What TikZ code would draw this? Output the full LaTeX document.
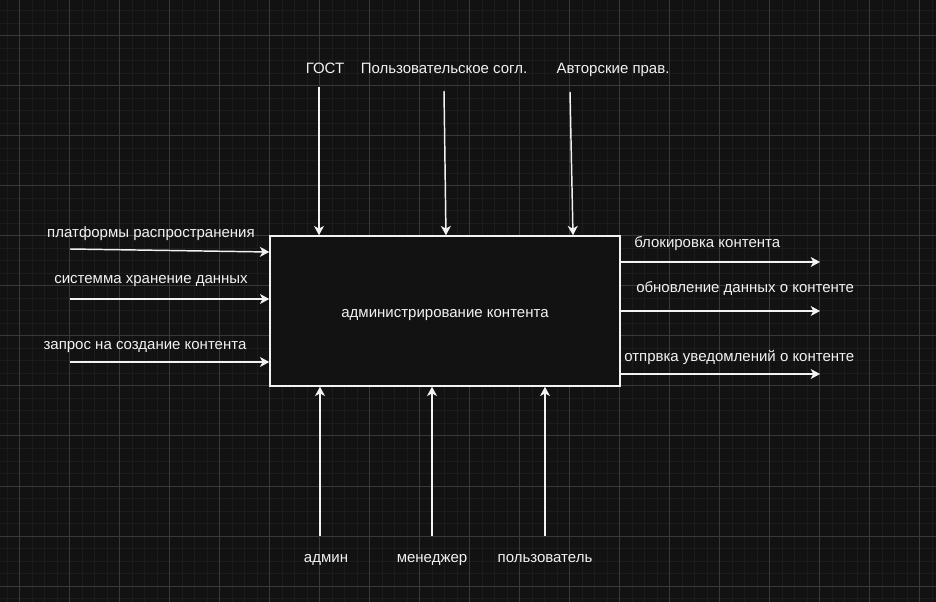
\documentclass[tikz,border=0pt]{standalone}
\usepackage{fontspec}
\setmainfont{Liberation Sans}
\usetikzlibrary{arrows.meta}
\definecolor{bg}{HTML}{121212}
\definecolor{gmin}{HTML}{1C1C1C}
\definecolor{gmaj}{HTML}{383838}
\definecolor{fg}{HTML}{F2F2F2}
\begin{document}
\begin{tikzpicture}[x=0.75pt,y=-0.75pt,
  lbl/.style={text=fg,font=\fontsize{11.25pt}{13pt}\selectfont,inner sep=0pt,anchor=base},
  arr/.style={draw=fg,line width=1.1pt,-{Stealth[length=7pt,width=7.5pt,inset=2pt]}},
  mainbox/.style={draw=fg,fill=bg,line width=1.1pt,minimum width=262.5pt,minimum height=112.5pt,inner sep=0pt}]
\useasboundingbox (0,0) rectangle (936,602);
\begin{scope}
\clip (0,0) rectangle (936,602);
\fill[bg] (0,0) rectangle (936,602);
\foreach \i in {0,...,75} \draw[gmin,line width=0.75pt] ({7+12.5*\i},0) -- ({7+12.5*\i},602);
\foreach \i in {0,...,49} \draw[gmin,line width=0.75pt] (0,{-1.5+12.5*\i}) -- (936,{-1.5+12.5*\i});
\foreach \i in {0,...,18} \draw[gmaj,line width=0.75pt] ({19.5+50*\i},0) -- ({19.5+50*\i},602);
\foreach \i in {0,...,11} \draw[gmaj,line width=0.75pt] (0,{36+50*\i}) -- (936,{36+50*\i});
\end{scope}

\node[mainbox] (box) at (445,311) {};
\node[lbl] (title) at (445,318) {администрирование контента};

% inputs
\coordinate (i1) at (70,249);
\coordinate (i2) at (70,299);
\coordinate (i3) at (70,362);
\draw[arr] (i1) -- (box.west |- 0,252);
\draw[arr] (i2) -- (box.west |- i2);
\draw[arr] (i3) -- (box.west |- i3);
\node[lbl] (li1) at (151,238) {платформы распространения};
\node[lbl] (li2) at (151,284) {системма хранение данных};
\node[lbl] (li3) at (145,350) {запрос на создание контента};

% outputs
\coordinate (o1) at (820,262);
\coordinate (o2) at (820,311);
\coordinate (o3) at (820,374);
\draw[arr] (box.east |- o1) -- (o1);
\draw[arr] (box.east |- o2) -- (o2);
\draw[arr] (box.east |- o3) -- (o3);
\node[lbl,anchor=base west] (lo1) at (634,248) {блокировка контента};
\node[lbl,anchor=base west] (lo2) at (636,293) {обновление данных о контенте};
\node[lbl,anchor=base west] (lo3) at (624,362) {отпрвка уведомлений о контенте};

% controls
\coordinate (c1) at (319,87);
\coordinate (c2) at (444,91);
\coordinate (c3) at (570,92);
\draw[arr] (c1) -- (319,0 |- box.north);
\draw[arr] (c2) -- (446,0 |- box.north);
\draw[arr] (c3) -- (573,0 |- box.north);
\node[lbl] (lc1) at (325,74) {ГОСТ};
\node[lbl] (lc2) at (444,74) {Пользовательское согл.};
\node[lbl] (lc3) at (613,74) {Авторские прав.};

% mechanisms
\coordinate (m1) at (320,536);
\coordinate (m2) at (432,536);
\coordinate (m3) at (545,536);
\draw[arr] (m1) -- (m1 |- box.south);
\draw[arr] (m2) -- (m2 |- box.south);
\draw[arr] (m3) -- (m3 |- box.south);
\node[lbl] (lm1) at (326,562) {админ};
\node[lbl] (lm2) at (432,562) {менеджер};
\node[lbl] (lm3) at (545,562) {пользователь};
\end{tikzpicture}
\end{document}
